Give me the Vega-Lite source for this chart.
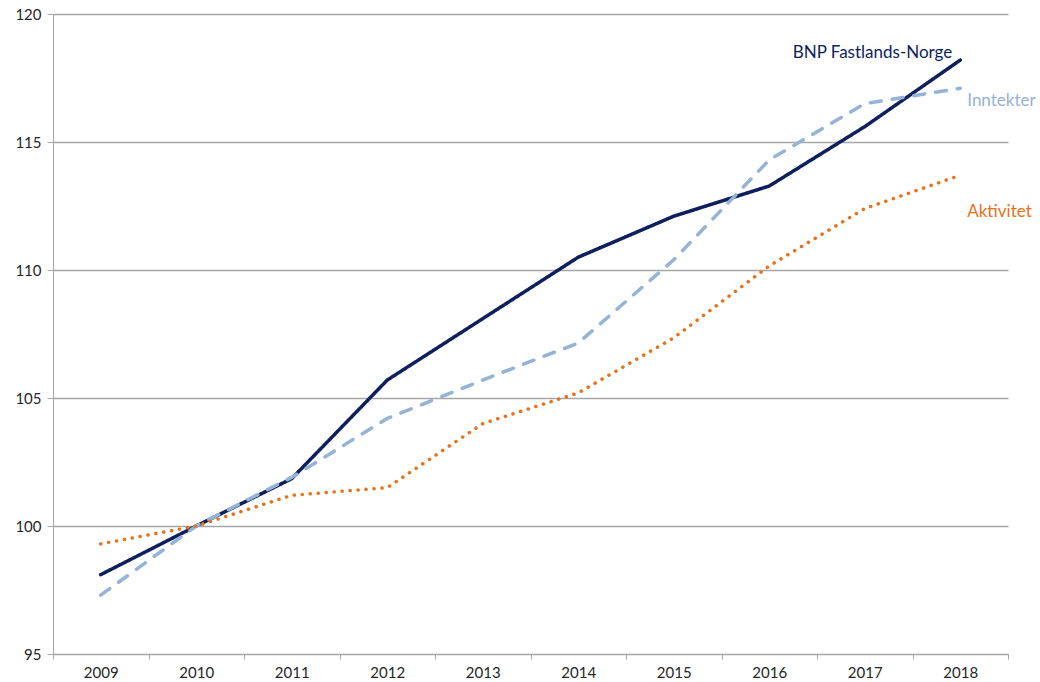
{
  "$schema": "https://vega.github.io/schema/vega-lite/v6.json",
  "width": 955,
  "height": 640,
  "autosize": "none",
  "padding": {"left": 53, "top": 14, "right": 32, "bottom": 28},
  "background": "white",
  "config": {"view": {"stroke": null}, "font": "Lato"},
  "datasets": {
    "series": [
      {"year": "2009", "serie": "BNP Fastlands-Norge", "value": 98.1},
      {"year": "2010", "serie": "BNP Fastlands-Norge", "value": 100.0},
      {"year": "2011", "serie": "BNP Fastlands-Norge", "value": 101.85},
      {"year": "2012", "serie": "BNP Fastlands-Norge", "value": 105.7},
      {"year": "2013", "serie": "BNP Fastlands-Norge", "value": 108.1},
      {"year": "2014", "serie": "BNP Fastlands-Norge", "value": 110.5},
      {"year": "2015", "serie": "BNP Fastlands-Norge", "value": 112.1},
      {"year": "2016", "serie": "BNP Fastlands-Norge", "value": 113.28},
      {"year": "2017", "serie": "BNP Fastlands-Norge", "value": 115.6},
      {"year": "2018", "serie": "BNP Fastlands-Norge", "value": 118.2},
      {"year": "2009", "serie": "Inntekter", "value": 97.3},
      {"year": "2010", "serie": "Inntekter", "value": 100.0},
      {"year": "2011", "serie": "Inntekter", "value": 101.9},
      {"year": "2012", "serie": "Inntekter", "value": 104.2},
      {"year": "2013", "serie": "Inntekter", "value": 105.7},
      {"year": "2014", "serie": "Inntekter", "value": 107.15},
      {"year": "2015", "serie": "Inntekter", "value": 110.4},
      {"year": "2016", "serie": "Inntekter", "value": 114.3},
      {"year": "2017", "serie": "Inntekter", "value": 116.5},
      {"year": "2018", "serie": "Inntekter", "value": 117.1},
      {"year": "2009", "serie": "Aktivitet", "value": 99.3},
      {"year": "2010", "serie": "Aktivitet", "value": 100.0},
      {"year": "2011", "serie": "Aktivitet", "value": 101.2},
      {"year": "2012", "serie": "Aktivitet", "value": 101.5},
      {"year": "2013", "serie": "Aktivitet", "value": 104.0},
      {"year": "2014", "serie": "Aktivitet", "value": 105.2},
      {"year": "2015", "serie": "Aktivitet", "value": 107.35},
      {"year": "2016", "serie": "Aktivitet", "value": 110.16},
      {"year": "2017", "serie": "Aktivitet", "value": 112.4},
      {"year": "2018", "serie": "Aktivitet", "value": 113.7}
    ],
    "labels": [
      {"year": "2018", "serie": "BNP Fastlands-Norge", "value": 118.48, "label": "BNP Fastlands-Norge"},
      {"year": "2018", "serie": "Inntekter", "value": 116.6, "label": "Inntekter"},
      {"year": "2018", "serie": "Aktivitet", "value": 112.27, "label": "Aktivitet"}
    ]
  },
  "encoding": {
    "x": {
      "field": "year", "type": "ordinal",
      "scale": {"type": "band", "paddingInner": 0, "paddingOuter": 0},
      "axis": {
        "title": null, "labelAngle": 0, "tickBand": "extent",
        "domainColor": "#a6a6a6", "tickColor": "#a6a6a6", "tickSize": 5,
        "labelFontSize": 15, "labelColor": "#262626", "labelPadding": 6,
        "labelFont": "Lato", "grid": false
      }
    },
    "y": {
      "field": "value", "type": "quantitative",
      "scale": {"domain": [95, 120], "nice": false, "zero": false},
      "axis": {
        "title": null, "values": [95, 100, 105, 110, 115, 120],
        "gridColor": "#a6a6a6", "gridWidth": 1.3, "domainColor": "#a6a6a6",
        "tickColor": "#a6a6a6", "tickSize": 6, "labelFontSize": 15,
        "labelColor": "#262626", "labelPadding": 6, "labelFont": "Lato"
      }
    },
    "color": {
      "field": "serie", "type": "nominal", "legend": null,
      "scale": {
        "domain": ["BNP Fastlands-Norge", "Inntekter", "Aktivitet"],
        "range": ["#0d1f5c", "#95b3d7", "#e8711a"]
      }
    }
  },
  "layer": [
    {
      "data": {"name": "series"},
      "mark": {"type": "line", "strokeWidth": 3.5, "strokeCap": "round", "strokeJoin": "round"},
      "encoding": {
        "strokeDash": {
          "field": "serie", "type": "nominal", "legend": null,
          "scale": {
            "domain": ["BNP Fastlands-Norge", "Inntekter", "Aktivitet"],
            "range": [[1, 0], [11, 11], [0.1, 7.9]]
          }
        }
      }
    },
    {
      "data": {"name": "labels"},
      "transform": [{"filter": "datum.serie === 'BNP Fastlands-Norge'"}],
      "mark": {"type": "text", "fontSize": 17, "font": "Lato", "baseline": "middle", "align": "right", "dx": -8},
      "encoding": {"text": {"field": "label"}}
    },
    {
      "data": {"name": "labels"},
      "transform": [{"filter": "datum.serie !== 'BNP Fastlands-Norge'"}],
      "mark": {"type": "text", "fontSize": 17, "font": "Lato", "baseline": "middle", "align": "left", "dx": 7},
      "encoding": {"text": {"field": "label"}}
    }
  ]
}
